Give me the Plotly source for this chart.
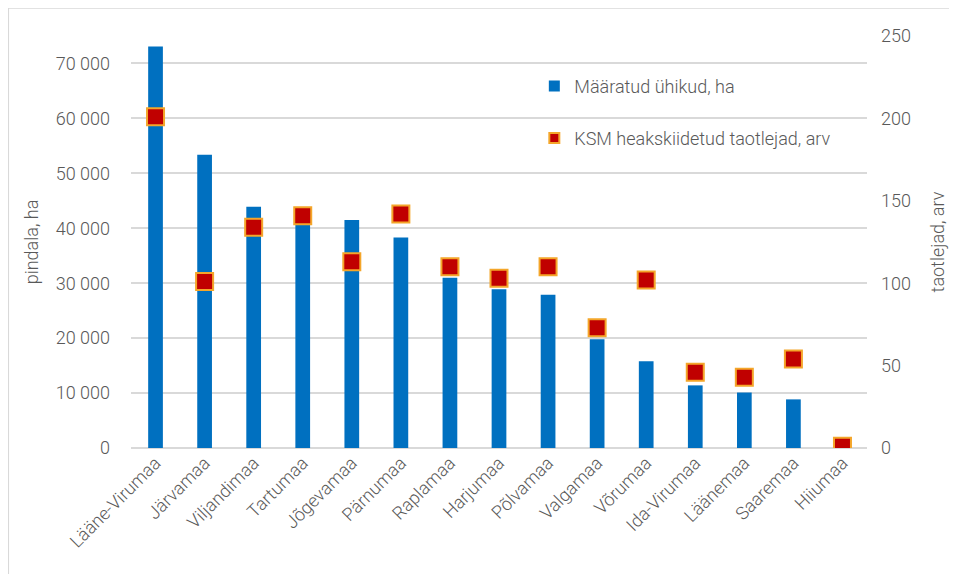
import plotly.graph_objects as go

categories = ["Lääne-Virumaa", "Järvamaa", "Viljandimaa", "Tartumaa", "Jõgevamaa",
              "Pärnumaa", "Raplamaa", "Harjumaa", "Põlvamaa", "Valgamaa",
              "Võrumaa", "Ida-Virumaa", "Läänemaa", "Saaremaa", "Hiiumaa"]
area_ha = [73100, 53400, 43900, 40600, 41500, 38300, 31000, 28900, 27900, 19800,
           15800, 11400, 10100, 8850, 0]
applicants = [201, 101, 134, 141, 113, 142, 110, 103, 110, 73, 102, 46, 43, 54, 1]

bar_name = "Määratud ühikud, ha"
marker_name = "KSM heakskiidetud taotlejad, arv"
left_title = "pindala, ha"
right_title = "taotlejad, arv"

FONT = "Roboto Light, Roboto"
GREY = "#595959"
BLUE = "#0070C0"
RED = "#C00000"
ORANGE = "#F4A62A"
GRID = "#D9D9D9"

fig = go.Figure()
fig.add_trace(go.Bar(x=categories, y=area_ha, marker=dict(color=BLUE, line=dict(width=0)),
                     width=0.3, showlegend=False, name=bar_name, yaxis="y"))
fig.add_trace(go.Scatter(x=categories, y=applicants, mode="markers", yaxis="y2",
                         marker=dict(symbol="square", size=17, color=RED,
                                     line=dict(color=ORANGE, width=2)),
                         showlegend=False, name=marker_name))
# legend entries
fig.add_trace(go.Scatter(x=[None], y=[None], mode="markers", name=bar_name,
                         marker=dict(symbol="square", size=11, color=BLUE), legend="legend"))
fig.add_trace(go.Scatter(x=[None], y=[None], mode="markers", name=marker_name, yaxis="y2",
                         marker=dict(symbol="square", size=10, color=RED,
                                     line=dict(color=ORANGE, width=2)), legend="legend2"))

font_tick = dict(family=FONT, size=18, color=GREY, weight=300)

fig.update_layout(
    width=949, height=566,
    margin=dict(l=123, r=88, t=28, b=126),
    paper_bgcolor="white", plot_bgcolor="white",
    separators=", ",
    font=dict(family=FONT, size=18, color=GREY, weight=300),
    xaxis=dict(tickangle=-45, tickfont=font_tick, showgrid=False, showline=False,
               ticks="", range=[-0.5, len(categories) - 0.5]),
    yaxis=dict(range=[0, 75000], dtick=10000, tickformat=",d", tickfont=font_tick,
               showgrid=True, gridcolor=GRID, gridwidth=1.5, zeroline=True,
               zerolinecolor=GRID, zerolinewidth=1.5, showline=False, ticks="",
               ticklabelstandoff=20,
               title=dict(text=left_title, font=font_tick, standoff=12)),
    yaxis2=dict(range=[0, 250], dtick=50, overlaying="y", side="right", showgrid=False,
                zeroline=False, tickfont=font_tick, showline=False, ticks="",
                ticklabelstandoff=13,
                title=dict(text=right_title, font=font_tick, standoff=21)),
    legend=dict(x=0.548, y=0.878, xanchor="left", yanchor="middle",
                font=dict(family=FONT, size=18, color=GREY, weight=300),
                bgcolor="rgba(0,0,0,0)", itemwidth=30),
    legend2=dict(x=0.548, y=0.752, xanchor="left", yanchor="middle",
                 font=dict(family=FONT, size=18, color=GREY, weight=300),
                 bgcolor="rgba(0,0,0,0)", itemwidth=30),
    shapes=[
        dict(type="line", xref="paper", yref="paper", x0=-0.1667, x1=1.3,
             y0=1.068, y1=1.068, line=dict(color=GRID, width=1.5)),
        dict(type="line", xref="paper", yref="paper", x0=-0.1667, x1=-0.1667,
             y0=1.068, y1=-0.4, line=dict(color=GRID, width=1.5)),
    ],
)

fig.write_html("out.html")
